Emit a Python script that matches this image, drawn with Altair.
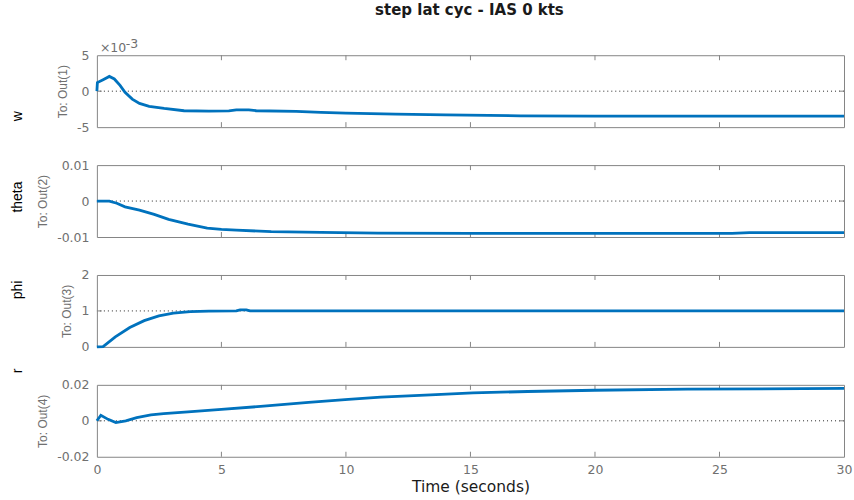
import altair as alt
import pandas as pd

# ---- step response samples (time in seconds) ----
time_ticks = [0, 5, 10, 15, 20, 25, 30]

# w, in units of 1e-3
w_t = [0.0, 0.02, 0.25, 0.5, 0.7, 0.93, 1.13, 1.42, 1.71, 2.1, 2.7, 3.5, 4.5,
       5.3, 5.6, 6.1, 6.4, 8.0, 9.0, 10.0, 12.0, 14.0, 17.0, 20.0, 30.0]
w_val = [0.0, 1.2, 1.6, 2.05, 1.7, 0.8, -0.15, -1.1, -1.7, -2.1, -2.4, -2.72, -2.78,
         -2.75, -2.6, -2.6, -2.72, -2.8, -2.95, -3.05, -3.2, -3.3, -3.42, -3.47, -3.47]

theta_t = [0.0, 0.5, 0.8, 1.13, 1.71, 2.3, 2.88, 3.66, 4.43, 5.0, 5.6, 7.0, 9.0,
           11.3, 15.0, 25.5, 26.2, 30.0]
theta_val = [0.0, 0.0, -0.0006, -0.0016, -0.0025, -0.0037, -0.0051, -0.0064, -0.0075,
             -0.0079, -0.0081, -0.0085, -0.0087, -0.0089, -0.009, -0.009, -0.0088, -0.0088]

phi_t = [0.0, 0.25, 0.74, 1.32, 1.9, 2.49, 3.07, 3.75, 4.5, 5.6, 5.75, 6.0, 6.15, 30.0]
phi_val = [0.0, 0.01, 0.28, 0.54, 0.73, 0.86, 0.94, 0.98, 0.995, 1.0, 1.03, 1.03, 1.0, 1.0]

r_t = [0.0, 0.16, 0.45, 0.76, 1.16, 1.6, 2.17, 2.68, 3.66, 5.0, 6.57, 8.5, 10.1,
       11.4, 13.4, 15.1, 17.3, 20.0, 23.7, 30.0]
r_val = [0.0, 0.0031, 0.0008, -0.001, 0.0, 0.0018, 0.0033, 0.004, 0.005, 0.0063, 0.008,
         0.0103, 0.0119, 0.0132, 0.0144, 0.0155, 0.0163, 0.017, 0.0176, 0.018]

channel_names = ["w", "theta", "phi", "r"]
output_titles = ["To: Out(1)", "To: Out(2)", "To: Out(3)", "To: Out(4)"]
y_domains = [[-5, 5], [-0.01, 0.01], [0, 2], [-0.02, 0.02]]
y_tick_values = [[-5, 0, 5], [-0.01, 0, 0.01], [0, 1, 2], [-0.02, 0, 0.02]]
reference_levels = [0, 0, 1, 0]

plot_title = "step lat cyc - IAS 0 kts"
x_title = "Time (seconds)"

# ---- styling ----
W, H = 748, 72
FRAME = "#858585"
LABEL = "#707070"
BLUE = "#0072BD"
TICK_LEN = 5
NAME_Y = [61, 32, 15, -14]

label_expr = "replace(format(datum.value, '~g'), '\u2212', '-')"


def panel(i, t, v, bottom=False, extra=()):
    df = pd.DataFrame({"t": t, "v": v})
    xs = alt.Scale(domain=[0, 30], nice=False, zero=False)
    ys = alt.Scale(domain=y_domains[i], nice=False, zero=False)
    if bottom:
        xaxis = alt.Axis(values=time_ticks, ticks=False, domain=False, grid=False,
                         labelFlush=False, labelPadding=7, labelFont="DejaVu Sans",
                         labelFontSize=12.5, labelColor=LABEL, title=x_title,
                         titleFont="DejaVu Sans", titleFontSize=15.5,
                         titleFontWeight="normal", titleColor="#1a1a1a",
                         titleBaseline="alphabetic", titleY=35)
        X = alt.X("t:Q", scale=xs, axis=xaxis)
    else:
        X = alt.X("t:Q", scale=xs, axis=None)
    yaxis = alt.Axis(values=y_tick_values[i], ticks=False, domain=False, grid=False,
                     labelFlush=False, labelPadding=8, labelFont="DejaVu Sans",
                     labelFontSize=12.5, labelColor=LABEL, labelExpr=label_expr,
                     title=output_titles[i], titleFont="Liberation Sans",
                     titleFontSize=12, titleFontWeight="normal", titleColor=LABEL,
                     titlePadding=7)
    Y = alt.Y("v:Q", scale=ys, axis=yaxis)

    ref_df = pd.DataFrame({"v": [reference_levels[i]]})
    ref = alt.Chart(ref_df).mark_rule(color="#262626", strokeDash=[1, 3],
                                      strokeWidth=1).encode(y=Y)
    tick_df = pd.DataFrame({"t": time_ticks[1:-1]})
    xt_top = alt.Chart(tick_df).mark_rule(color=FRAME).encode(
        x=X, y=alt.value(0), y2=alt.value(TICK_LEN))
    xt_bot = alt.Chart(tick_df).mark_rule(color=FRAME).encode(
        x=X, y=alt.value(H - TICK_LEN), y2=alt.value(H))
    yt_left = alt.Chart(ref_df).mark_rule(color=FRAME).encode(
        y=Y, x=alt.value(0), x2=alt.value(TICK_LEN))
    yt_right = alt.Chart(ref_df).mark_rule(color=FRAME).encode(
        y=Y, x=alt.value(W - TICK_LEN), x2=alt.value(W))
    line = alt.Chart(df).mark_line(color=BLUE, strokeWidth=2.8).encode(x=X, y=Y)
    name = alt.Chart(pd.DataFrame({"s": [channel_names[i]]})).mark_text(
        angle=270, align="center", baseline="alphabetic", font="Liberation Sans",
        fontSize=14, color="black").encode(
        text="s:N", x=alt.value(-75), y=alt.value(NAME_Y[i]))
    layers = [ref, xt_top, xt_bot, yt_left, yt_right, line, name, *extra]
    return alt.layer(*layers).properties(width=W, height=H)


title_mark = alt.Chart(pd.DataFrame({"s": [plot_title]})).mark_text(
    align="center", baseline="alphabetic", font="DejaVu Sans", fontSize=15,
    fontWeight="bold", color="#1a1a1a").encode(
    text="s:N", x=alt.value(W / 2 - 1), y=alt.value(-40))
exp_base = alt.Chart(pd.DataFrame({"s": ["\u00d710"]})).mark_text(
    align="left", baseline="alphabetic", font="DejaVu Sans", fontSize=12.5,
    color=LABEL).encode(text="s:N", x=alt.value(3), y=alt.value(-3))
exp_power = alt.Chart(pd.DataFrame({"s": ["-3"]})).mark_text(
    align="left", baseline="alphabetic", font="DejaVu Sans", fontSize=12.5,
    color=LABEL).encode(text="s:N", x=alt.value(29), y=alt.value(-7))

p1 = panel(0, w_t, w_val, extra=(title_mark, exp_base, exp_power))
p2 = panel(1, theta_t, theta_val)
p3 = panel(2, phi_t, phi_val)
p4 = panel(3, r_t, r_val, bottom=True)

chart = alt.vconcat(p1, p2, p3, p4, spacing=38, bounds="flush").properties(
    padding={"left": 10, "top": 2, "right": 1, "bottom": 3},
    background="white",
).configure_view(stroke=FRAME, strokeWidth=1)

chart.save("out.html", embed_options={"renderer": "svg", "actions": False})
